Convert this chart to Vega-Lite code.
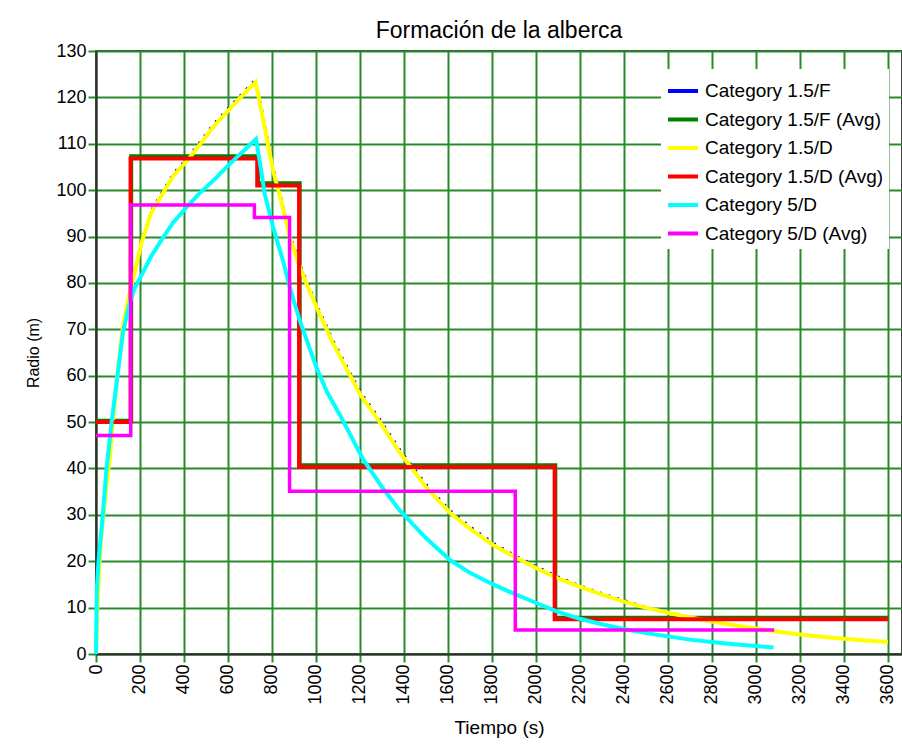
{
  "$schema": "https://vega.github.io/schema/vega-lite/v6.json",
  "width": 806,
  "height": 603,
  "autosize": {"type": "none"},
  "padding": {"left": 96, "top": 51, "right": 0, "bottom": 94},
  "background": "white",
  "title": {"text": "Formación de la alberca", "font": "Liberation Sans", "fontSize": 23, "fontWeight": "normal", "color": "black", "anchor": "middle", "offset": -1},
  "config": {
    "view": {"stroke": "#404040", "strokeWidth": 2},
    "axis": {"labelFont": "Liberation Sans", "titleFont": "Liberation Sans", "labelColor": "black", "titleColor": "black", "titleFontWeight": "normal", "gridColor": "#288a28", "gridWidth": 2, "gridOpacity": 1, "tickColor": "#288a28", "tickWidth": 2, "tickSize": 8, "domainColor": "#303030", "domainWidth": 2},
    "legend": {"labelFont": "Liberation Sans", "labelFontSize": 19, "labelColor": "black", "labelLimit": 0}
  },
  "data": {"values": [
    {"series": "Category 1.5/F", "t": 0, "v": 0},
    {"series": "Category 1.5/F", "t": 6, "v": 10.6},
    {"series": "Category 1.5/F", "t": 15, "v": 19.6},
    {"series": "Category 1.5/F", "t": 25, "v": 26.6},
    {"series": "Category 1.5/F", "t": 40, "v": 33.6},
    {"series": "Category 1.5/F", "t": 62, "v": 42.6},
    {"series": "Category 1.5/F", "t": 90, "v": 57.6},
    {"series": "Category 1.5/F", "t": 123, "v": 71.6},
    {"series": "Category 1.5/F", "t": 161, "v": 80.1},
    {"series": "Category 1.5/F", "t": 184, "v": 84.6},
    {"series": "Category 1.5/F", "t": 206, "v": 89.1},
    {"series": "Category 1.5/F", "t": 250, "v": 95.6},
    {"series": "Category 1.5/F", "t": 305, "v": 100.0},
    {"series": "Category 1.5/F", "t": 350, "v": 103.6},
    {"series": "Category 1.5/F", "t": 411, "v": 106.8},
    {"series": "Category 1.5/F", "t": 470, "v": 110.3},
    {"series": "Category 1.5/F", "t": 532, "v": 114.2},
    {"series": "Category 1.5/F", "t": 600, "v": 117.7},
    {"series": "Category 1.5/F", "t": 650, "v": 120.2},
    {"series": "Category 1.5/F", "t": 700, "v": 122.7},
    {"series": "Category 1.5/F", "t": 725, "v": 123.9},
    {"series": "Category 1.5/F", "t": 742, "v": 120.6},
    {"series": "Category 1.5/F", "t": 769, "v": 114.1},
    {"series": "Category 1.5/F", "t": 807, "v": 104.8},
    {"series": "Category 1.5/F", "t": 845, "v": 98.1},
    {"series": "Category 1.5/F", "t": 882, "v": 90.6},
    {"series": "Category 1.5/F", "t": 920, "v": 85.1},
    {"series": "Category 1.5/F", "t": 958, "v": 80.6},
    {"series": "Category 1.5/F", "t": 1002, "v": 75.6},
    {"series": "Category 1.5/F", "t": 1079, "v": 67.6},
    {"series": "Category 1.5/F", "t": 1152, "v": 61.1},
    {"series": "Category 1.5/F", "t": 1202, "v": 56.6},
    {"series": "Category 1.5/F", "t": 1292, "v": 50.6},
    {"series": "Category 1.5/F", "t": 1382, "v": 44.1},
    {"series": "Category 1.5/F", "t": 1502, "v": 36.6},
    {"series": "Category 1.5/F", "t": 1610, "v": 31.0},
    {"series": "Category 1.5/F", "t": 1702, "v": 27.5},
    {"series": "Category 1.5/F", "t": 1807, "v": 24.0},
    {"series": "Category 1.5/F", "t": 1902, "v": 21.4},
    {"series": "Category 1.5/F", "t": 2004, "v": 18.9},
    {"series": "Category 1.5/F", "t": 2102, "v": 16.7},
    {"series": "Category 1.5/F", "t": 2201, "v": 14.8},
    {"series": "Category 1.5/F", "t": 2302, "v": 13.1},
    {"series": "Category 1.5/F", "t": 2402, "v": 11.6},
    {"series": "Category 1.5/F", "t": 2502, "v": 10.2},
    {"series": "Category 1.5/F", "t": 2602, "v": 9.0},
    {"series": "Category 1.5/F", "t": 2702, "v": 8.0},
    {"series": "Category 1.5/F", "t": 2802, "v": 7.0},
    {"series": "Category 1.5/F", "t": 2902, "v": 6.2},
    {"series": "Category 1.5/F", "t": 3002, "v": 5.5},
    {"series": "Category 1.5/F", "t": 3102, "v": 4.8},
    {"series": "Category 1.5/F", "t": 3202, "v": 4.2},
    {"series": "Category 1.5/F", "t": 3302, "v": 3.7},
    {"series": "Category 1.5/F", "t": 3402, "v": 3.3},
    {"series": "Category 1.5/F", "t": 3502, "v": 2.9},
    {"series": "Category 1.5/F", "t": 3600, "v": 2.6},

    {"series": "Category 1.5/F (Avg)", "t": 0, "v": 50.3},
    {"series": "Category 1.5/F (Avg)", "t": 160, "v": 107.3},
    {"series": "Category 1.5/F (Avg)", "t": 736, "v": 101.5},
    {"series": "Category 1.5/F (Avg)", "t": 926, "v": 40.7},
    {"series": "Category 1.5/F (Avg)", "t": 2088, "v": 7.8},
    {"series": "Category 1.5/F (Avg)", "t": 3600, "v": 7.8},

    {"series": "Category 1.5/D", "t": 0, "v": 0},
    {"series": "Category 1.5/D", "t": 6, "v": 10},
    {"series": "Category 1.5/D", "t": 15, "v": 19},
    {"series": "Category 1.5/D", "t": 25, "v": 26},
    {"series": "Category 1.5/D", "t": 40, "v": 33},
    {"series": "Category 1.5/D", "t": 62, "v": 42},
    {"series": "Category 1.5/D", "t": 90, "v": 57},
    {"series": "Category 1.5/D", "t": 123, "v": 71},
    {"series": "Category 1.5/D", "t": 161, "v": 79.5},
    {"series": "Category 1.5/D", "t": 184, "v": 84},
    {"series": "Category 1.5/D", "t": 206, "v": 88.5},
    {"series": "Category 1.5/D", "t": 250, "v": 95},
    {"series": "Category 1.5/D", "t": 305, "v": 99.4},
    {"series": "Category 1.5/D", "t": 350, "v": 103},
    {"series": "Category 1.5/D", "t": 411, "v": 106.2},
    {"series": "Category 1.5/D", "t": 470, "v": 109.7},
    {"series": "Category 1.5/D", "t": 532, "v": 113.6},
    {"series": "Category 1.5/D", "t": 600, "v": 117.1},
    {"series": "Category 1.5/D", "t": 650, "v": 119.6},
    {"series": "Category 1.5/D", "t": 700, "v": 122.1},
    {"series": "Category 1.5/D", "t": 725, "v": 123.3},
    {"series": "Category 1.5/D", "t": 740, "v": 120},
    {"series": "Category 1.5/D", "t": 767, "v": 113.5},
    {"series": "Category 1.5/D", "t": 805, "v": 104.2},
    {"series": "Category 1.5/D", "t": 843, "v": 97.5},
    {"series": "Category 1.5/D", "t": 880, "v": 90},
    {"series": "Category 1.5/D", "t": 918, "v": 84.5},
    {"series": "Category 1.5/D", "t": 956, "v": 80},
    {"series": "Category 1.5/D", "t": 1000, "v": 75},
    {"series": "Category 1.5/D", "t": 1077, "v": 67},
    {"series": "Category 1.5/D", "t": 1150, "v": 60.5},
    {"series": "Category 1.5/D", "t": 1200, "v": 56},
    {"series": "Category 1.5/D", "t": 1290, "v": 50},
    {"series": "Category 1.5/D", "t": 1380, "v": 43.5},
    {"series": "Category 1.5/D", "t": 1500, "v": 36},
    {"series": "Category 1.5/D", "t": 1608, "v": 30.5},
    {"series": "Category 1.5/D", "t": 1700, "v": 27},
    {"series": "Category 1.5/D", "t": 1805, "v": 23.5},
    {"series": "Category 1.5/D", "t": 1900, "v": 21},
    {"series": "Category 1.5/D", "t": 2002, "v": 18.5},
    {"series": "Category 1.5/D", "t": 2100, "v": 16.3},
    {"series": "Category 1.5/D", "t": 2199, "v": 14.5},
    {"series": "Category 1.5/D", "t": 2300, "v": 12.8},
    {"series": "Category 1.5/D", "t": 2400, "v": 11.3},
    {"series": "Category 1.5/D", "t": 2500, "v": 10},
    {"series": "Category 1.5/D", "t": 2600, "v": 8.9},
    {"series": "Category 1.5/D", "t": 2700, "v": 7.9},
    {"series": "Category 1.5/D", "t": 2800, "v": 7},
    {"series": "Category 1.5/D", "t": 2900, "v": 6.2},
    {"series": "Category 1.5/D", "t": 3000, "v": 5.5},
    {"series": "Category 1.5/D", "t": 3100, "v": 4.8},
    {"series": "Category 1.5/D", "t": 3200, "v": 4.2},
    {"series": "Category 1.5/D", "t": 3300, "v": 3.7},
    {"series": "Category 1.5/D", "t": 3400, "v": 3.3},
    {"series": "Category 1.5/D", "t": 3500, "v": 2.9},
    {"series": "Category 1.5/D", "t": 3600, "v": 2.6},

    {"series": "Category 1.5/D (Avg)", "t": 0, "v": 50},
    {"series": "Category 1.5/D (Avg)", "t": 157, "v": 106.8},
    {"series": "Category 1.5/D (Avg)", "t": 733, "v": 101},
    {"series": "Category 1.5/D (Avg)", "t": 923, "v": 40.3},
    {"series": "Category 1.5/D (Avg)", "t": 2085, "v": 7.5},
    {"series": "Category 1.5/D (Avg)", "t": 3600, "v": 7.5},

    {"series": "Category 5/D", "t": 0, "v": 0},
    {"series": "Category 5/D", "t": 2, "v": 8},
    {"series": "Category 5/D", "t": 4, "v": 14},
    {"series": "Category 5/D", "t": 10, "v": 19},
    {"series": "Category 5/D", "t": 17, "v": 23},
    {"series": "Category 5/D", "t": 29, "v": 28.8},
    {"series": "Category 5/D", "t": 47, "v": 39.6},
    {"series": "Category 5/D", "t": 70, "v": 49.5},
    {"series": "Category 5/D", "t": 95, "v": 59},
    {"series": "Category 5/D", "t": 123, "v": 69.5},
    {"series": "Category 5/D", "t": 155, "v": 76},
    {"series": "Category 5/D", "t": 175, "v": 78.8},
    {"series": "Category 5/D", "t": 200, "v": 81},
    {"series": "Category 5/D", "t": 250, "v": 85.7},
    {"series": "Category 5/D", "t": 305, "v": 89.8},
    {"series": "Category 5/D", "t": 350, "v": 93},
    {"series": "Category 5/D", "t": 411, "v": 96.3},
    {"series": "Category 5/D", "t": 470, "v": 99.3},
    {"series": "Category 5/D", "t": 532, "v": 102},
    {"series": "Category 5/D", "t": 590, "v": 104.8},
    {"series": "Category 5/D", "t": 638, "v": 107},
    {"series": "Category 5/D", "t": 690, "v": 109.3},
    {"series": "Category 5/D", "t": 727, "v": 111},
    {"series": "Category 5/D", "t": 744, "v": 106.3},
    {"series": "Category 5/D", "t": 767, "v": 99.2},
    {"series": "Category 5/D", "t": 805, "v": 92},
    {"series": "Category 5/D", "t": 850, "v": 84.8},
    {"series": "Category 5/D", "t": 880, "v": 79.2},
    {"series": "Category 5/D", "t": 926, "v": 71.9},
    {"series": "Category 5/D", "t": 1002, "v": 61.8},
    {"series": "Category 5/D", "t": 1050, "v": 56.5},
    {"series": "Category 5/D", "t": 1108, "v": 51.6},
    {"series": "Category 5/D", "t": 1214, "v": 42},
    {"series": "Category 5/D", "t": 1300, "v": 36},
    {"series": "Category 5/D", "t": 1380, "v": 31},
    {"series": "Category 5/D", "t": 1500, "v": 25},
    {"series": "Category 5/D", "t": 1608, "v": 20.3},
    {"series": "Category 5/D", "t": 1700, "v": 17.5},
    {"series": "Category 5/D", "t": 1805, "v": 15},
    {"series": "Category 5/D", "t": 1900, "v": 13},
    {"series": "Category 5/D", "t": 2002, "v": 11},
    {"series": "Category 5/D", "t": 2100, "v": 9.1},
    {"series": "Category 5/D", "t": 2199, "v": 7.6},
    {"series": "Category 5/D", "t": 2300, "v": 6.4},
    {"series": "Category 5/D", "t": 2400, "v": 5.4},
    {"series": "Category 5/D", "t": 2500, "v": 4.5},
    {"series": "Category 5/D", "t": 2600, "v": 3.8},
    {"series": "Category 5/D", "t": 2700, "v": 3.1},
    {"series": "Category 5/D", "t": 2800, "v": 2.6},
    {"series": "Category 5/D", "t": 2900, "v": 2.1},
    {"series": "Category 5/D", "t": 3000, "v": 1.7},
    {"series": "Category 5/D", "t": 3080, "v": 1.4},

    {"series": "Category 5/D (Avg)", "t": 0, "v": 47.1},
    {"series": "Category 5/D (Avg)", "t": 158, "v": 96.8},
    {"series": "Category 5/D (Avg)", "t": 720, "v": 94.1},
    {"series": "Category 5/D (Avg)", "t": 880, "v": 35.1},
    {"series": "Category 5/D (Avg)", "t": 1906, "v": 5.2},
    {"series": "Category 5/D (Avg)", "t": 3083, "v": 5.2}
  ]},
  "encoding": {
    "x": {"field": "t", "type": "quantitative", "scale": {"domain": [0, 3664], "nice": false, "zero": true},
      "axis": {"values": [0,200,400,600,800,1000,1200,1400,1600,1800,2000,2200,2400,2600,2800,3000,3200,3400,3600], "format": "d", "labelAngle": -90, "labelFontSize": 18, "labelPadding": 2, "title": "Tiempo (s)", "titleFontSize": 19, "titlePadding": 14, "labelFlush": false, "labelOverlap": false}},
    "y": {"field": "v", "type": "quantitative", "scale": {"domain": [0, 130], "nice": false},
      "axis": {"values": [0,10,20,30,40,50,60,70,80,90,100,110,120,130], "format": "d", "labelFontSize": 18, "labelPadding": 2, "title": "Radio (m)", "titleFontSize": 16, "titlePadding": 14, "labelFlush": false, "labelOverlap": false}},
    "color": {"field": "series", "type": "nominal",
      "scale": {"domain": ["Category 1.5/F", "Category 1.5/F (Avg)", "Category 1.5/D", "Category 1.5/D (Avg)", "Category 5/D", "Category 5/D (Avg)"],
                "range": ["#0000ff", "#008000", "#ffff00", "#ff0000", "#00ffff", "#ff00ff"]},
      "legend": {"title": null, "orient": "none", "legendX": 565, "legendY": 18, "fillColor": "white", "padding": 5, "symbolType": "stroke", "symbolSize": 900, "symbolStrokeWidth": 4, "symbolDash": [1, 0], "labelOffset": 5, "rowPadding": 1.5, "labelLimit": 0}}
  },
  "layer": [
    {"transform": [{"filter": "datum.series === 'Category 1.5/F'"}], "mark": {"type": "line", "strokeWidth": 2, "strokeDash": [2, 7]}},
    {"transform": [{"filter": "datum.series === 'Category 1.5/F (Avg)'"}], "mark": {"type": "line", "strokeWidth": 4, "interpolate": "step-after"}},
    {"transform": [{"filter": "datum.series === 'Category 1.5/D'"}], "mark": {"type": "line", "strokeWidth": 4}},
    {"transform": [{"filter": "datum.series === 'Category 1.5/D (Avg)'"}], "mark": {"type": "line", "strokeWidth": 4, "interpolate": "step-after"}},
    {"transform": [{"filter": "datum.series === 'Category 5/D'"}], "mark": {"type": "line", "strokeWidth": 4}},
    {"transform": [{"filter": "datum.series === 'Category 5/D (Avg)'"}], "mark": {"type": "line", "strokeWidth": 3.5, "interpolate": "step-after"}}
  ]
}
